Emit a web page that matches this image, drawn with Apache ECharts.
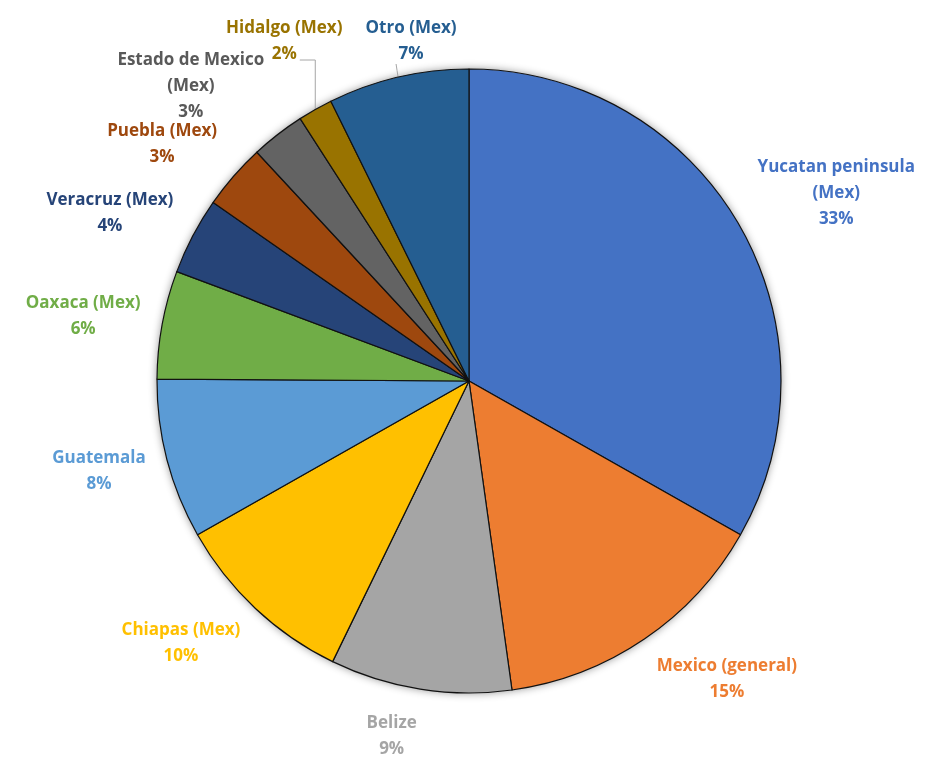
<!DOCTYPE html>
<html>
<head>
<meta charset="utf-8">
<script src="https://cdn.jsdelivr.net/npm/echarts@6/dist/echarts.min.js"></script>
<style>
html,body{margin:0;padding:0;background:#fff;}
#chart{width:933px;height:764px;}
</style>
</head>
<body>
<div id="chart"></div>
<script>
// ---- data ----
const categories = ['Yucatan peninsula (Mex)', 'Mexico (general)', 'Belize', 'Chiapas (Mex)', 'Guatemala',
  'Oaxaca (Mex)', 'Veracruz (Mex)', 'Puebla (Mex)', 'Estado de Mexico (Mex)', 'Hidalgo (Mex)', 'Otro (Mex)'];
const values = [33.2, 14.6, 9.4, 9.6, 8.3, 5.6, 4.0, 3.4, 2.8, 1.8, 7.3];

// ---- styles ----
const sliceColors = ['#4472C4', '#ED7D31', '#A5A5A5', '#FFC000', '#5B9BD5', '#70AD47',
  '#264478', '#9E480E', '#636363', '#997300', '#255E91'];
const labelColors = ['#4472C4', '#ED7D31', '#A5A5A5', '#FFC000', '#5B9BD5', '#70AD47',
  '#264478', '#9E480E', '#595959', '#997300', '#255E91'];
const leaderNudge = { 'Hidalgo (Mex)': -31, 'Otro (Mex)': 13 };

const CX = 469, CY = 381, R = 312, GAP = 22;
const FONT = '"Open Sans", "DejaVu Sans", sans-serif';
const FONT_SIZE = 17;
const FONT_WEIGHT = 700;
const total = values.reduce((a, b) => a + b, 0);

function midDir(i) {
  let cum = 0;
  for (let j = 0; j < i; j++) cum += values[j];
  const t = (cum + values[i] / 2) / total * 2 * Math.PI;
  return [Math.sin(t), -Math.cos(t)];
}
const measureCtx = document.createElement('canvas').getContext('2d');
function textWidth(s) {
  measureCtx.font = FONT_WEIGHT + ' ' + FONT_SIZE + 'px ' + FONT;
  return measureCtx.measureText(s).width;
}
function labelText(name, value) {
  const n = name.length > 16 ? name.replace(' (', '\n(') : name;
  return n + '\n' + Math.round(value / total * 100) + '%';
}

const chart = echarts.init(document.getElementById('chart'), null, { renderer: 'canvas' });

const pieData = categories.map((name, i) => ({
  name: name,
  value: values[i],
  itemStyle: { color: sliceColors[i] },
  label: { color: labelColors[i] },
  labelLine: { show: leaderNudge[name] !== undefined }
}));

chart.setOption({
  animation: false,
  backgroundColor: '#ffffff',
  series: [
    {
      type: 'pie',
      silent: true,
      z: 1,
      center: [CX, CY],
      radius: R,
      startAngle: 90,
      label: { show: false },
      labelLine: { show: false },
      data: [{ value: total, itemStyle: { color: '#ffffff', shadowBlur: 9, shadowColor: 'rgba(0,0,0,0.45)' } }]
    },
    {
      type: 'pie',
      z: 2,
      center: [CX, CY],
      radius: R,
      startAngle: 90,
      clockwise: true,
      avoidLabelOverlap: false,
      itemStyle: { borderColor: '#111111', borderWidth: 1.2 },
      emphasis: { disabled: true },
      label: {
        show: true,
        position: 'outside',
        fontFamily: FONT,
        fontSize: FONT_SIZE,
        fontWeight: FONT_WEIGHT,
        lineHeight: 26,
        formatter: p => labelText(p.name, p.value)
      },
      labelLine: { length: 20, length2: 10, lineStyle: { color: '#A6A6A6', width: 1 } },
      labelLayout: function (p) {
        if (p.seriesIndex !== 1) return {};
        const i = p.dataIndex;
        const name = categories[i];
        const d = midDir(i);
        const w = p.labelRect.width, h = p.labelRect.height;
        if (leaderNudge[name] !== undefined) {
          const ex = CX + d[0] * R, ey = CY + d[1] * R;
          const cx = ex + leaderNudge[name];
          const cy = CY - R - h / 2 - 2;
          let pts;
          if (leaderNudge[name] < 0) {
            const pct = Math.round(values[i] / total * 100) + '%';
            const lx = cx + textWidth(pct) / 2 + 3;
            const ly = cy + h / 2 - 7;
            pts = [[ex, ey], [ex, ly], [lx, ly]];
          } else {
            const ly = cy + h / 2 - 3;
            pts = [[ex, ey], [ex - 1, (ey + ly) / 2], [ex - 2, ly]];
          }
          return { x: cx, y: cy, align: 'center', verticalAlign: 'middle', labelLinePoints: pts };
        }
        const ax = CX + d[0] * (R + GAP), ay = CY + d[1] * (R + GAP);
        const cx = ax + Math.sign(d[0]) * w / 2;
        const cy = ay + d[1] * h / 2;
        return { x: cx, y: cy, align: 'center', verticalAlign: 'middle' };
      },
      data: pieData
    }
  ]
});
</script>
</body>
</html>
